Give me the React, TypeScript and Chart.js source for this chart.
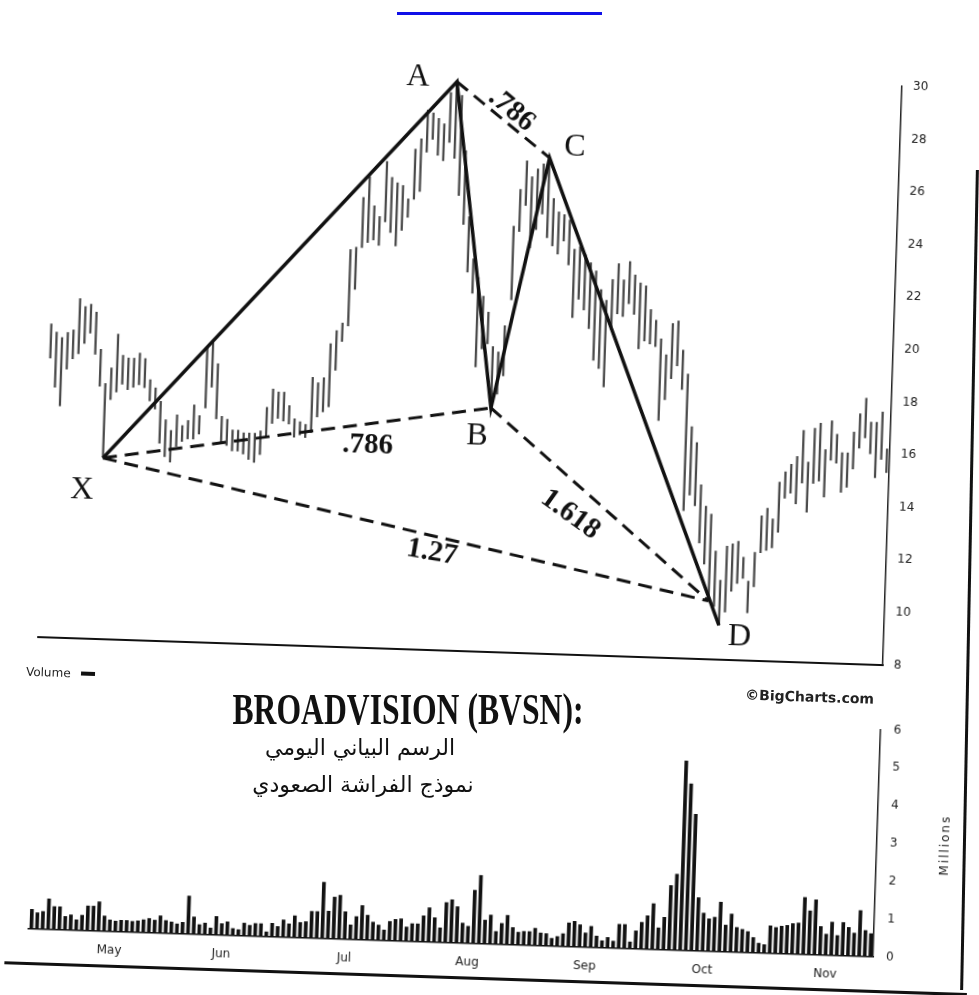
import React, { useEffect, useRef } from 'react';
import { Chart, registerables } from 'chart.js';

Chart.register(...registerables);

// Trading days (1998), April 13 – November 12
const monthNames = ['Apr', 'May', 'Jun', 'Jul', 'Aug', 'Sep', 'Oct', 'Nov'];
const aprDays = [13, 14, 15, 16, 17, 20, 21, 22, 23, 24, 27, 28, 29, 30];
const mayDays = [1, 4, 5, 6, 7, 8, 11, 12, 13, 14, 15, 18, 19, 20, 21, 22, 26, 27, 28, 29];
const junDays = [1, 2, 3, 4, 5, 8, 9, 10, 11, 12, 15, 16, 17, 18, 19, 22, 23, 24, 25, 26, 29, 30];
const julDays = [1, 2, 6, 7, 8, 9, 10, 13, 14, 15, 16, 17, 20, 21, 22, 23, 24, 27, 28, 29, 30, 31];
const augDays = [3, 4, 5, 6, 7, 10, 11, 12, 13, 14, 17, 18, 19, 20, 21, 24, 25, 26, 27, 28, 31];
const sepDays = [1, 2, 3, 4, 8, 9, 10, 11, 14, 15, 16, 17, 18, 21, 22, 23, 24, 25, 28, 29, 30];
const octDays = [1, 2, 5, 6, 7, 8, 9, 12, 13, 14, 15, 16, 19, 20, 21, 22, 23, 26, 27, 28, 29, 30];
const novDays = [2, 3, 4, 5, 6, 9, 10, 11, 12];
const monthDays = [aprDays, mayDays, junDays, julDays, augDays, sepDays, octDays, novDays];
const categories: string[] = monthDays.flatMap((days, m) => days.map((d) => `${monthNames[m]} ${d}`));

// Month tick labels shown under the volume panel
const monthTickLabels = ['May', 'Jun', 'Jul', 'Aug', 'Sep', 'Oct', 'Nov'];

// Daily highs / lows (USD)
const highs = [
  19.9, 19.6, 19.4, 19.6, 19.7, 20.9, 20.6, 20.7, 20.4, 19.0,
  17.7, 18.3, 19.6, 18.8, 18.7, 18.7, 18.9, 18.7, 17.9, 17.6,
  17.1, 16.4, 16.0, 16.6, 16.2, 16.4, 17.0, 16.6, 19.2, 19.4,
  18.6, 16.6, 16.5, 16.1, 16.1, 16.0, 16.0, 16.0, 16.1, 17.0,
  17.7, 17.6, 17.6, 17.1, 16.6, 16.5, 16.4, 18.2, 18.0, 18.2,
  19.5, 20.0, 20.3, 23.1, 23.2, 25.1, 25.9, 24.8, 24.4, 26.5,
  25.9, 25.7, 25.6, 25.1, 27.0, 27.4, 28.5, 28.4, 28.2, 28.0,
  29.2, 29.6, 29.1, 27.0, 24.5, 22.9, 22.2, 21.5, 20.9, 19.6,
  19.4, 20.4, 24.2, 25.6, 26.7, 26.1, 26.4, 26.6, 26.8, 25.3,
  24.8, 24.7, 24.5, 23.4, 23.5, 23.2, 22.9, 22.6, 21.9, 21.5,
  22.3, 22.9, 22.3, 23.0, 22.5, 22.2, 22.1, 21.2, 20.8, 20.1,
  19.5, 20.7, 20.8, 19.7, 18.8, 16.8, 16.2, 14.6, 13.8, 13.5,
  12.1, 11.0, 12.3, 12.4, 12.5, 11.9, 11.0, 12.1, 13.5, 13.8,
  13.4, 14.8, 15.2, 15.5, 15.8, 16.8, 15.6, 16.9, 17.1, 16.1,
  17.2, 16.7, 16.0, 16.0, 16.8, 17.5, 18.1, 17.2, 17.2, 17.6,
  16.2,
];
const lows = [
  18.6, 17.5, 16.8, 18.2, 18.6, 18.8, 19.2, 19.6, 18.8, 17.6,
  14.9, 17.1, 17.4, 17.7, 17.5, 17.6, 17.7, 17.6, 17.1, 16.8,
  15.5, 15.0, 14.8, 15.4, 15.6, 15.7, 15.7, 15.9, 16.9, 17.7,
  16.5, 15.6, 15.5, 15.3, 15.3, 15.2, 15.0, 14.9, 15.2, 15.9,
  16.4, 16.6, 16.5, 16.4, 15.9, 16.0, 15.9, 16.1, 16.7, 16.9,
  17.1, 18.5, 19.6, 20.2, 21.6, 23.2, 23.4, 23.5, 23.3, 24.2,
  23.8, 23.3, 23.9, 24.4, 25.1, 25.4, 26.9, 27.4, 26.8, 26.6,
  27.3, 26.7, 25.3, 24.2, 22.4, 21.6, 18.8, 19.5, 19.7, 17.3,
  17.8, 18.5, 21.4, 24.0, 25.0, 23.4, 24.1, 24.7, 23.8, 23.5,
  23.2, 23.7, 22.8, 20.8, 21.5, 21.1, 20.4, 19.2, 18.9, 18.2,
  20.4, 21.0, 20.9, 21.4, 21.0, 19.7, 20.0, 19.9, 19.8, 17.0,
  17.8, 18.6, 19.1, 18.2, 13.6, 14.2, 13.8, 12.4, 11.6, 10.3,
  10.0, 9.3, 9.8, 10.6, 10.9, 11.1, 9.8, 10.8, 12.1, 12.2,
  12.3, 12.9, 14.2, 14.4, 14.0, 14.8, 13.7, 14.8, 14.9, 14.3,
  15.7, 15.6, 14.5, 14.7, 15.4, 16.2, 16.6, 16.0, 15.1, 15.8,
  15.3,
];

// Daily volume (millions of shares)
const volumes = [
  0.51, 0.42, 0.46, 0.8, 0.6, 0.6, 0.35, 0.4, 0.27, 0.4,
  0.65, 0.65, 0.77, 0.4, 0.3, 0.27, 0.3, 0.3, 0.28, 0.3,
  0.33, 0.37, 0.33, 0.45, 0.33, 0.3, 0.25, 0.3, 1.0, 0.45,
  0.25, 0.3, 0.17, 0.48, 0.3, 0.35, 0.18, 0.15, 0.33, 0.28,
  0.33, 0.33, 0.12, 0.35, 0.27, 0.45, 0.35, 0.57, 0.4, 0.42,
  0.7, 0.7, 1.48, 0.72, 1.1, 1.15, 0.72, 0.38, 0.6, 0.9,
  0.65, 0.47, 0.4, 0.27, 0.5, 0.56, 0.58, 0.37, 0.46, 0.46,
  0.68, 0.9, 0.64, 0.38, 1.05, 1.13, 0.95, 0.52, 0.44, 1.4,
  1.8, 0.62, 0.76, 0.33, 0.55, 0.77, 0.45, 0.33, 0.36, 0.36,
  0.45, 0.33, 0.32, 0.2, 0.25, 0.33, 0.62, 0.67, 0.58, 0.37,
  0.55, 0.3, 0.18, 0.27, 0.18, 0.63, 0.63, 0.17, 0.47, 0.7,
  0.88, 1.2, 0.57, 0.85, 1.7, 2.0, 5.0, 4.4, 3.6, 1.4,
  1.0, 0.85, 0.9, 1.3, 0.7, 1.0, 0.65, 0.6, 0.55, 0.4,
  0.25, 0.22, 0.72, 0.68, 0.72, 0.75, 0.8, 0.82, 1.5, 1.15,
  1.45, 0.75, 0.55, 0.87, 0.52, 0.87, 0.75, 0.6, 1.2, 0.68,
  0.6,
];

// Butterfly pattern pivots
const patternNames = ['X', 'A', 'B', 'C', 'D'];
const patternIndex = [10, 71, 79, 88, 121];
const patternPrice = [14.87, 29.62, 17.26, 26.84, 9.29];
// Where the 1.27 / 1.618 projections meet
const projectionIndex = 119;
const projectionPrice = 10.2;

// Price-axis and volume-axis tick settings
const priceMin = 8;
const priceMax = 30;
const priceStep = 2;
const volumeMin = 0;
const volumeMax = 6;
const volumeStep = 1;

const letterOffsets: Record<string, number[]> = {
  X: [-20, 33],
  A: [-39, -3],
  B: [-13, 29],
  C: [25, -11],
  D: [21, 11],
};
const ratioLabels = [
  { text: '.786', from: 'A', to: 'C', dx: 8, dy: -10, angle: 38 },
  { text: '.786', from: 'X', to: 'B', dx: 71, dy: 10, angle: 0 },
  { text: '1.27', from: 'X', to: 'T', dx: 27, dy: 22, angle: 8 },
  { text: '1.618', from: 'B', to: 'T', dx: -29, dy: 11, angle: 34 },
];

const tickFont = { family: '"DejaVu Sans", sans-serif', size: 12 };

export default function App() {
  const priceRef = useRef<HTMLCanvasElement>(null);
  const volRef = useRef<HTMLCanvasElement>(null);

  useEffect(() => {
    const P = (k: number) => ({ x: categories[patternIndex[k]], y: patternPrice[k] });
    const T = { x: categories[projectionIndex], y: projectionPrice };

    const dashed = (label: string, pts: any[]) => ({
      type: 'line',
      label,
      data: pts,
      borderColor: '#111',
      borderWidth: 3,
      borderDash: [14, 8],
      pointRadius: 0,
      fill: false,
      tension: 0,
      order: 1,
    });

    const patternLabelPlugin = {
      id: 'patternLabels',
      afterDatasetsDraw(chart: any) {
        const { ctx } = chart;
        const xs = chart.scales.x;
        const ys = chart.scales.y;
        const pt = (name: string) => {
          if (name === 'T') {
            return { x: xs.getPixelForValue(projectionIndex), y: ys.getPixelForValue(projectionPrice) };
          }
          const k = patternNames.indexOf(name);
          return { x: xs.getPixelForValue(patternIndex[k]), y: ys.getPixelForValue(patternPrice[k]) };
        };
        ctx.save();
        ctx.fillStyle = '#111';
        ctx.textAlign = 'center';
        ctx.textBaseline = 'middle';
        ctx.font = '32px "Liberation Serif", serif';
        patternNames.forEach((n) => {
          const p = pt(n);
          const o = letterOffsets[n];
          ctx.fillText(n, p.x + o[0], p.y + o[1]);
        });
        ctx.font = 'bold 29px "Liberation Serif", serif';
        ratioLabels.forEach((r) => {
          const a = pt(r.from);
          const b = pt(r.to);
          const mx = (a.x + b.x) / 2 + r.dx;
          const my = (a.y + b.y) / 2 + r.dy;
          ctx.save();
          ctx.translate(mx, my);
          ctx.rotate((r.angle * Math.PI) / 180);
          ctx.fillText(r.text, 0, 0);
          ctx.restore();
        });
        ctx.restore();
      },
    };

    const priceChart = new Chart(priceRef.current as HTMLCanvasElement, {
      type: 'bar',
      data: {
        labels: categories,
        datasets: [
          {
            type: 'line',
            label: 'XABCD',
            data: [P(0), P(1), P(2), P(3), P(4)],
            borderColor: '#111',
            borderWidth: 3.5,
            pointRadius: 0,
            fill: false,
            tension: 0,
            order: 0,
          },
          dashed('XB', [P(0), P(2)]),
          dashed('AC', [P(1), P(3)]),
          dashed('BD', [P(2), T]),
          dashed('XD', [P(0), T]),
          {
            type: 'bar',
            label: 'BVSN',
            data: lows.map((l, i) => [l, highs[i]]),
            backgroundColor: '#4a4a4a',
            barThickness: 1.6,
            order: 10,
          },
        ] as any,
      },
      options: {
        animation: false,
        responsive: false,
        maintainAspectRatio: false,
        devicePixelRatio: 1,
        layout: { padding: { left: 43, top: 73, right: 51, bottom: 48.5 } },
        plugins: { legend: { display: false }, tooltip: { enabled: false } },
        scales: {
          x: {
            type: 'category',
            offset: true,
            grid: { display: false },
            ticks: { display: false },
            border: { display: true, color: '#111', width: 2 },
            afterFit: (s: any) => {
              s.height = 0;
            },
          },
          y: {
            position: 'right',
            min: priceMin,
            max: priceMax,
            ticks: { stepSize: priceStep, padding: 3, color: '#222', font: tickFont },
            grid: { display: false },
            border: { display: true, color: '#222', width: 1.5 },
            afterFit: (s: any) => {
              s.width = 40;
            },
          },
        },
      } as any,
      plugins: [patternLabelPlugin],
    });

    const volChart = new Chart(volRef.current as HTMLCanvasElement, {
      type: 'bar',
      data: {
        labels: categories,
        datasets: [
          {
            label: 'Volume',
            data: volumes,
            backgroundColor: '#111',
            barThickness: 3,
          },
        ],
      },
      options: {
        animation: false,
        responsive: false,
        maintainAspectRatio: false,
        devicePixelRatio: 1,
        layout: { padding: { left: 43, top: 16.5, right: 51, bottom: 16.4 } },
        plugins: { legend: { display: false }, tooltip: { enabled: false } },
        scales: {
          x: {
            type: 'category',
            offset: true,
            grid: { display: false },
            border: { display: true, color: '#111', width: 1.5 },
            ticks: {
              autoSkip: false,
              maxRotation: 0,
              minRotation: 0,
              padding: 4,
              color: '#222',
              font: tickFont,
              callback: (_v: any, i: number) => {
                const mon = categories[i].split(' ')[0];
                const prev = i > 0 ? categories[i - 1].split(' ')[0] : mon;
                return i > 0 && prev !== mon && monthTickLabels.includes(mon) ? mon : '';
              },
            },
            afterFit: (s: any) => {
              s.height = 35;
            },
          },
          y: {
            position: 'right',
            min: volumeMin,
            max: volumeMax,
            ticks: { stepSize: volumeStep, padding: 5, color: '#222', font: tickFont },
            grid: { display: false },
            border: { display: true, color: '#222', width: 1.5 },
            afterFit: (s: any) => {
              s.width = 40;
            },
          },
        },
      } as any,
    });

    return () => {
      priceChart.destroy();
      volChart.destroy();
    };
  }, []);

  const smallText = { fontFamily: '"DejaVu Sans", sans-serif', color: '#222' };

  return (
    <div style={{ position: 'fixed', left: 0, top: 0, width: 979, height: 995, overflow: 'hidden', background: '#fff' }}>
      <div style={{ position: 'absolute', left: 397, top: 12, width: 205, height: 3, background: '#1010e8' }} />
      <div
        style={{
          position: 'absolute',
          left: 0,
          top: 0,
          width: 979,
          height: 995,
          transform: 'rotate(1.9deg)',
          transformOrigin: '490px 500px',
        }}
      >
        <canvas ref={priceRef} width={979} height={700} style={{ position: 'absolute', left: 0, top: 0, width: 979, height: 700 }} />
        <canvas ref={volRef} width={979} height={295} style={{ position: 'absolute', left: 0, top: 700, width: 979, height: 295 }} />
        <div style={{ ...smallText, position: 'absolute', left: 32, top: 680, fontSize: 12, lineHeight: '14px' }}>Volume</div>
        <div style={{ position: 'absolute', left: 87, top: 685, width: 14, height: 4, background: '#111' }} />
        <div
          style={{
            ...smallText,
            position: 'absolute',
            left: 716,
            width: 200,
            top: 678,
            textAlign: 'center',
            fontSize: 14,
            fontWeight: 'bold',
            lineHeight: '16px',
          }}
        >
          ©BigCharts.com
        </div>
        <div
          style={{
            ...smallText,
            position: 'absolute',
            left: 906,
            width: 100,
            top: 822,
            textAlign: 'center',
            fontSize: 12,
            lineHeight: '16px',
            letterSpacing: 2,
            transform: 'rotate(-90deg)',
          }}
        >
          Millions
        </div>
        <div style={{ position: 'absolute', left: 20, top: 977, width: 963, height: 2.5, background: '#111' }} />
      </div>
      <div style={{ position: 'absolute', left: 968, top: 170, width: 2.5, height: 820, background: '#111', transform: 'rotate(1.1deg)' }} />
      <div
        style={{
          position: 'absolute',
          left: 108,
          width: 600,
          top: 686,
          textAlign: 'center',
          fontFamily: '"Liberation Serif", serif',
          fontWeight: 'bold',
          fontSize: 44,
          lineHeight: '48px',
          color: '#111',
          transform: 'scaleX(0.72)',
          whiteSpace: 'nowrap',
        }}
      >
        BROADVISION (BVSN):
      </div>
      <div
        dir="rtl"
        style={{
          position: 'absolute',
          left: 160,
          width: 400,
          top: 735,
          textAlign: 'center',
          fontFamily: '"DejaVu Sans", sans-serif',
          fontSize: 22,
          lineHeight: '26px',
          color: '#111',
        }}
      >
        الرسم البياني اليومي
      </div>
      <div
        dir="rtl"
        style={{
          position: 'absolute',
          left: 163,
          width: 400,
          top: 772,
          textAlign: 'center',
          fontFamily: '"DejaVu Sans", sans-serif',
          fontSize: 22,
          lineHeight: '26px',
          color: '#111',
        }}
      >
        نموذج الفراشة الصعودي
      </div>
    </div>
  );
}
